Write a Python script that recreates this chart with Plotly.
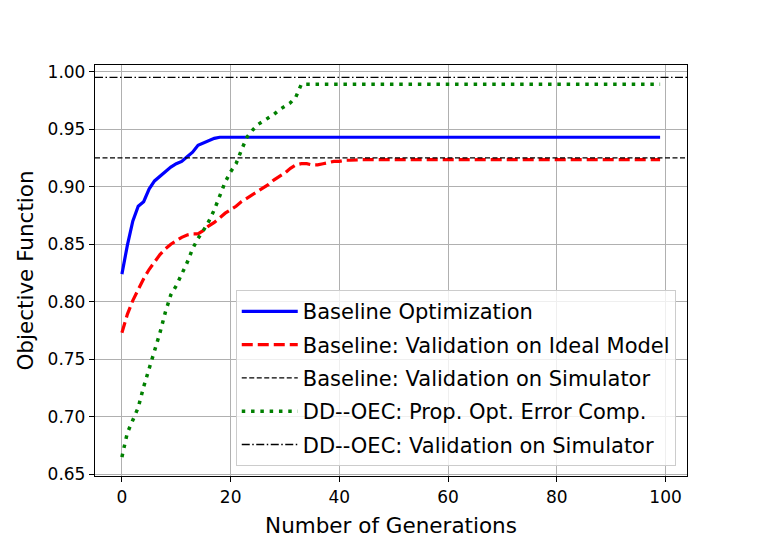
import plotly.graph_objects as go

generations = list(range(100))

baseline_opt = [
    0.824, 0.849, 0.870, 0.883, 0.887, 0.898, 0.905, 0.909, 0.913, 0.917,
    0.920, 0.922, 0.926, 0.930, 0.936, 0.938, 0.940, 0.942, 0.943, 0.943,
    0.943, 0.943, 0.943, 0.943, 0.943, 0.943, 0.943, 0.943, 0.943, 0.943,
    0.943, 0.943, 0.943, 0.943, 0.943, 0.943, 0.943, 0.943, 0.943, 0.943,
    0.943, 0.943, 0.943, 0.943, 0.943, 0.943, 0.943, 0.943, 0.943, 0.943,
    0.943, 0.943, 0.943, 0.943, 0.943, 0.943, 0.943, 0.943, 0.943, 0.943,
    0.943, 0.943, 0.943, 0.943, 0.943, 0.943, 0.943, 0.943, 0.943, 0.943,
    0.943, 0.943, 0.943, 0.943, 0.943, 0.943, 0.943, 0.943, 0.943, 0.943,
    0.943, 0.943, 0.943, 0.943, 0.943, 0.943, 0.943, 0.943, 0.943, 0.943,
    0.943, 0.943, 0.943, 0.943, 0.943, 0.943, 0.943, 0.943, 0.943, 0.943,
]

baseline_ideal = [
    0.773, 0.789, 0.801, 0.811, 0.820, 0.828, 0.835, 0.841, 0.846, 0.850,
    0.853, 0.856, 0.858, 0.859, 0.859, 0.862, 0.866, 0.869, 0.873, 0.877,
    0.880, 0.883, 0.887, 0.890, 0.893, 0.896, 0.899, 0.902, 0.906, 0.909,
    0.912, 0.916, 0.919, 0.920, 0.920, 0.919, 0.919, 0.920, 0.921, 0.922,
    0.922, 0.923, 0.923, 0.9235, 0.9235, 0.9235, 0.9235, 0.9235, 0.9235, 0.9235,
    0.9235, 0.9235, 0.9235, 0.9235, 0.9235, 0.9235, 0.9235, 0.9235, 0.9235, 0.9235,
    0.9235, 0.9235, 0.9235, 0.9235, 0.9235, 0.9235, 0.9235, 0.9235, 0.9235, 0.9235,
    0.9235, 0.9235, 0.9235, 0.9235, 0.9235, 0.9235, 0.9235, 0.9235, 0.9235, 0.9235,
    0.9235, 0.9235, 0.9235, 0.9235, 0.9235, 0.9235, 0.9235, 0.9235, 0.9235, 0.9235,
    0.9235, 0.9235, 0.9235, 0.9235, 0.9235, 0.9235, 0.9235, 0.9235, 0.9235, 0.9235,
]

ddoec_prop = [
    0.665, 0.686, 0.697, 0.708, 0.726, 0.741, 0.758, 0.773, 0.791, 0.806,
    0.814, 0.824, 0.834, 0.846, 0.855, 0.862, 0.870, 0.880, 0.893, 0.904,
    0.913, 0.920, 0.932, 0.943, 0.949, 0.954, 0.957, 0.960, 0.963, 0.967,
    0.970, 0.973, 0.978, 0.989, 0.989, 0.989, 0.989, 0.989, 0.989, 0.989,
    0.989, 0.989, 0.989, 0.989, 0.989, 0.989, 0.989, 0.989, 0.989, 0.989,
    0.989, 0.989, 0.989, 0.989, 0.989, 0.989, 0.989, 0.989, 0.989, 0.989,
    0.989, 0.989, 0.989, 0.989, 0.989, 0.989, 0.989, 0.989, 0.989, 0.989,
    0.989, 0.989, 0.989, 0.989, 0.989, 0.989, 0.989, 0.989, 0.989, 0.989,
    0.989, 0.989, 0.989, 0.989, 0.989, 0.989, 0.989, 0.989, 0.989, 0.989,
    0.989, 0.989, 0.989, 0.989, 0.989, 0.989, 0.989, 0.989, 0.989, 0.989,
]

baseline_sim_level = 0.925
ddoec_sim_level = 0.995

x_range = [-4.95, 103.95]
y_range = [0.6485, 1.0058]
x_ticks = [0, 20, 40, 60, 80, 100]
y_ticks = [0.65, 0.70, 0.75, 0.80, 0.85, 0.90, 0.95, 1.00]

FONT = "DejaVu Sans"

fig = go.Figure()

fig.add_trace(go.Scatter(
    x=generations, y=baseline_opt, mode="lines",
    name="Baseline Optimization", legendgroup="a",
    line=dict(color="#0000ff", width=3.2),
))
fig.add_trace(go.Scatter(
    x=generations, y=baseline_ideal, mode="lines",
    name="Baseline: Validation on Ideal Model", legendgroup="b",
    line=dict(color="#ff0000", width=3.2, dash="11px,5px"),
))
fig.add_trace(go.Scatter(
    x=x_range, y=[baseline_sim_level, baseline_sim_level], mode="lines",
    name="Baseline: Validation on Simulator", legendgroup="c",
    line=dict(color="#000000", width=1.3, dash="5px,2.5px"),
))
fig.add_trace(go.Scatter(
    x=generations, y=ddoec_prop, mode="lines",
    name="DD--OEC: Prop. Opt. Error Comp.", legendgroup="d",
    line=dict(color="#008000", width=3.5, dash="3.5px,5.8px"),
))
fig.add_trace(go.Scatter(
    x=x_range, y=[ddoec_sim_level, ddoec_sim_level], mode="lines",
    name="DD--OEC: Validation on Simulator", legendgroup="e",
    line=dict(color="#000000", width=1.3, dash="8px,2.5px,1.5px,2.5px"),
))

axis_common = dict(
    showline=True, linecolor="black", linewidth=1.3, mirror=True,
    ticks="outside", ticklen=5, tickwidth=1.3, tickcolor="black",
    showgrid=True, gridcolor="#b0b0b0", gridwidth=1.2,
    zeroline=False, automargin=False,
    tickfont=dict(family=FONT, size=17, color="black"),
)

fig.update_xaxes(
    range=x_range, tickvals=x_ticks,
    title=dict(text="Number of Generations", font=dict(family=FONT, size=21.5, color="black"), standoff=12),
    **axis_common,
)
fig.update_yaxes(
    range=y_range, tickvals=y_ticks, tickformat=".2f",
    title=dict(text="Objective Function", font=dict(family=FONT, size=21.5, color="black"), standoff=8),
    **axis_common,
)

fig.update_layout(
    width=755, height=537, autosize=False,
    margin=dict(l=87, r=76, t=57, b=69),
    paper_bgcolor="white", plot_bgcolor="white",
    font=dict(family=FONT, color="black"),
    showlegend=True,
    legend=dict(
        x=0.981, y=0.024, xanchor="right", yanchor="bottom",
        bgcolor="rgba(255,255,255,0.8)", bordercolor="#cccccc", borderwidth=1,
        font=dict(family=FONT, size=21, color="black"),
        itemwidth=56, tracegroupgap=3,
    ),
)

fig.write_html("out.html")
